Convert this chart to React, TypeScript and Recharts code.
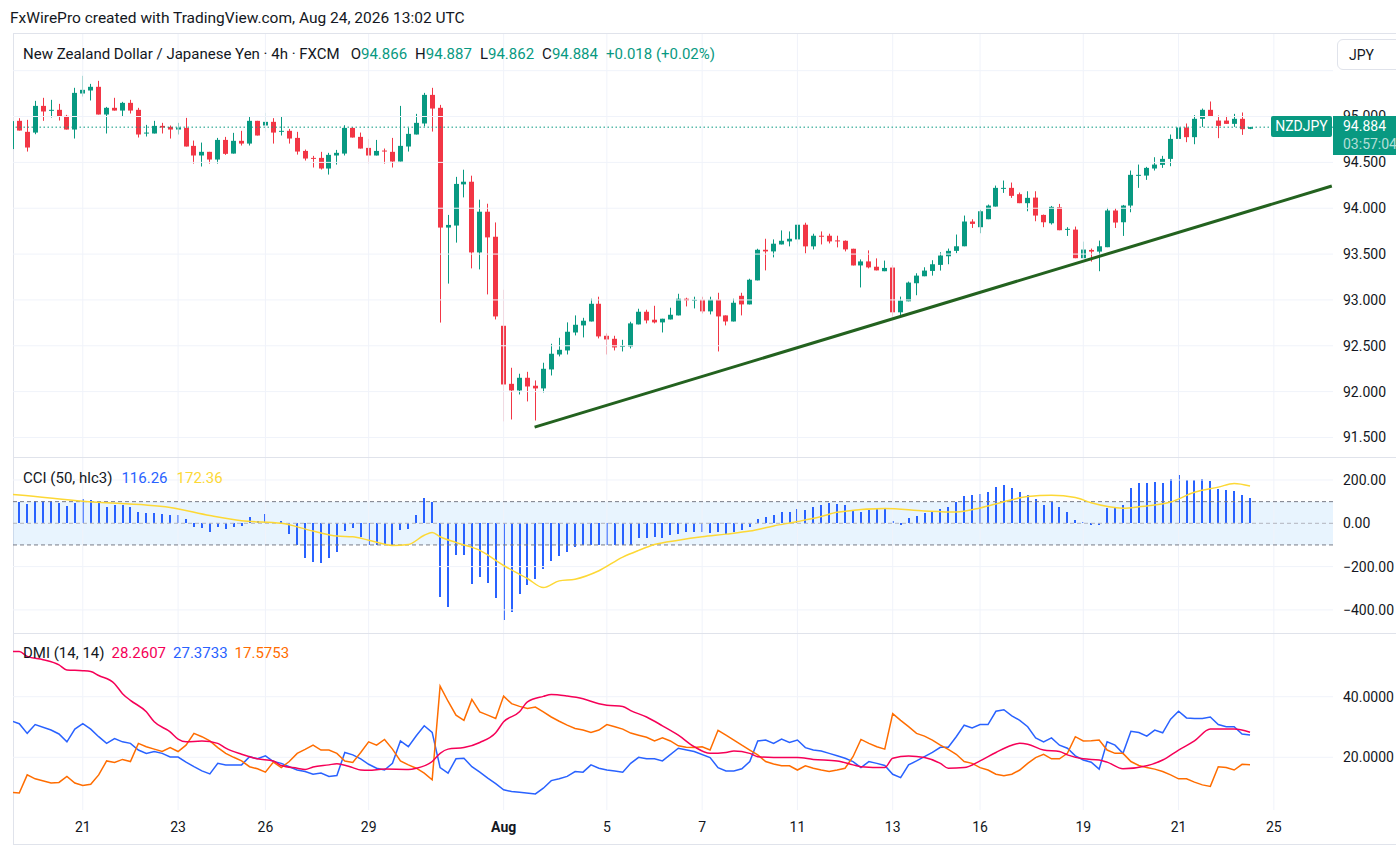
import React from 'react';
import { ComposedChart, Bar, Line, XAxis, YAxis, ReferenceLine, ReferenceArea } from 'recharts';

const FONT = 'Roboto, "Noto Sans", sans-serif';
const UP = '#089981';
const DOWN = '#f23645';
const GRID = '#f0f3fa';
const TEXT = '#131722';

// first candle row is the one cut by the left edge
const FIRST_INDEX = -1;

// [open, high, low, close] per 4h candle, oldest first
const ohlc: number[][] = [
  [94.645, 94.953, 94.640, 94.950],
  [94.953, 94.982, 94.847, 94.847], [94.833, 94.964, 94.618, 94.662], [94.825, 95.171, 94.807, 95.116],
  [95.116, 95.204, 94.953, 95.055], [95.065, 95.182, 94.989, 95.073], [95.073, 95.138, 94.956, 95.000],
  [95.007, 95.018, 94.858, 94.858], [94.858, 95.313, 94.760, 95.258], [95.251, 95.444, 95.218, 95.291],
  [95.284, 95.356, 95.175, 95.324], [95.324, 95.389, 95.022, 95.022], [95.022, 95.105, 94.815, 95.095],
  [95.095, 95.204, 95.065, 95.065], [95.065, 95.160, 95.000, 95.149], [95.149, 95.182, 95.033, 95.065],
  [95.073, 95.095, 94.771, 94.804], [94.818, 94.909, 94.782, 94.825], [94.815, 94.953, 94.815, 94.898],
  [94.898, 94.931, 94.815, 94.880], [94.887, 94.902, 94.760, 94.858], [94.858, 94.931, 94.804, 94.880],
  [94.876, 94.985, 94.673, 94.673], [94.680, 94.738, 94.487, 94.575], [94.575, 94.716, 94.455, 94.615],
  [94.615, 94.615, 94.487, 94.531], [94.531, 94.767, 94.487, 94.745], [94.745, 94.778, 94.582, 94.593],
  [94.596, 94.822, 94.596, 94.735], [94.735, 94.844, 94.684, 94.705], [94.705, 94.996, 94.684, 94.953],
  [94.953, 94.953, 94.793, 94.793], [94.902, 95.040, 94.836, 94.942], [94.942, 94.982, 94.705, 94.825],
  [94.836, 94.996, 94.793, 94.844], [94.844, 94.865, 94.705, 94.760], [94.767, 94.833, 94.585, 94.618],
  [94.625, 94.640, 94.520, 94.542], [94.549, 94.571, 94.444, 94.542], [94.549, 94.615, 94.422, 94.433],
  [94.433, 94.604, 94.367, 94.582], [94.575, 94.636, 94.476, 94.604], [94.596, 94.905, 94.575, 94.876],
  [94.876, 94.884, 94.771, 94.771], [94.778, 94.825, 94.651, 94.651], [94.658, 94.756, 94.487, 94.575],
  [94.575, 94.745, 94.575, 94.625], [94.629, 94.651, 94.487, 94.622], [94.615, 94.767, 94.444, 94.509],
  [94.509, 95.116, 94.509, 94.680], [94.673, 94.876, 94.618, 94.811], [94.804, 95.029, 94.804, 94.931],
  [94.924, 95.258, 94.891, 95.236], [95.236, 95.313, 94.836, 95.087], [95.095, 95.127, 92.753, 93.789],
  [93.789, 93.927, 93.178, 93.818], [93.811, 94.342, 93.625, 94.265], [94.260, 94.420, 94.118, 94.289],
  [94.289, 94.355, 93.344, 93.518], [93.518, 94.093, 93.333, 93.962], [93.962, 94.049, 93.060, 93.682],
  [93.689, 93.845, 92.787, 92.820], [92.718, 93.111, 91.675, 92.078], [92.085, 92.260, 91.696, 92.013],
  [92.013, 92.195, 91.969, 92.151], [92.151, 92.216, 91.893, 92.056], [92.064, 92.122, 91.685, 92.035],
  [92.035, 92.315, 91.991, 92.249], [92.242, 92.522, 92.176, 92.413], [92.405, 92.587, 92.384, 92.456],
  [92.449, 92.755, 92.405, 92.653], [92.645, 92.831, 92.613, 92.729], [92.722, 92.805, 92.591, 92.773],
  [92.765, 93.013, 92.765, 92.958], [92.958, 93.035, 92.580, 92.602], [92.609, 92.635, 92.405, 92.569],
  [92.576, 92.609, 92.449, 92.482], [92.493, 92.565, 92.438, 92.500], [92.493, 92.762, 92.471, 92.744],
  [92.733, 92.904, 92.733, 92.871], [92.871, 92.893, 92.744, 92.776], [92.784, 92.936, 92.744, 92.755],
  [92.755, 92.795, 92.645, 92.795], [92.787, 92.915, 92.787, 92.838], [92.831, 93.067, 92.831, 93.013],
  [93.013, 93.024, 92.929, 92.995], [92.995, 93.035, 92.907, 93.002], [93.002, 93.035, 92.853, 92.875],
  [92.875, 93.035, 92.842, 93.002], [93.002, 93.078, 92.438, 92.820], [92.831, 92.831, 92.722, 92.765],
  [92.765, 93.013, 92.765, 92.969], [93.045, 93.078, 92.831, 92.951], [92.951, 93.231, 92.951, 93.220],
  [93.213, 93.558, 93.213, 93.547], [93.547, 93.667, 93.322, 93.529], [93.529, 93.660, 93.464, 93.613],
  [93.605, 93.758, 93.605, 93.645], [93.638, 93.747, 93.584, 93.667], [93.660, 93.831, 93.605, 93.820],
  [93.820, 93.842, 93.507, 93.584], [93.584, 93.722, 93.551, 93.700], [93.700, 93.747, 93.605, 93.693],
  [93.700, 93.722, 93.616, 93.638], [93.649, 93.700, 93.573, 93.638], [93.645, 93.649, 93.529, 93.551],
  [93.558, 93.558, 93.376, 93.376], [93.376, 93.442, 93.136, 93.420], [93.420, 93.540, 93.344, 93.355],
  [93.362, 93.453, 93.322, 93.322], [93.313, 93.429, 93.313, 93.349], [93.353, 93.378, 92.818, 92.865],
  [92.865, 93.036, 92.811, 92.993], [92.985, 93.200, 92.985, 93.189], [93.182, 93.291, 93.051, 93.265],
  [93.258, 93.356, 93.258, 93.320], [93.316, 93.433, 93.265, 93.389], [93.382, 93.520, 93.320, 93.484],
  [93.476, 93.560, 93.389, 93.535], [93.535, 93.713, 93.509, 93.585], [93.585, 93.920, 93.585, 93.855],
  [93.855, 93.880, 93.785, 93.829], [93.793, 93.982, 93.727, 93.967], [93.880, 94.040, 93.880, 94.029],
  [94.018, 94.247, 94.018, 94.222], [94.215, 94.302, 94.167, 94.222], [94.222, 94.280, 94.113, 94.135],
  [94.153, 94.171, 94.055, 94.055], [94.055, 94.185, 93.967, 94.113], [94.116, 94.185, 93.858, 93.920],
  [93.927, 93.931, 93.793, 93.847], [93.836, 94.025, 93.822, 94.015], [94.011, 94.047, 93.760, 93.760],
  [93.767, 93.793, 93.698, 93.775], [93.767, 93.800, 93.455, 93.455], [93.455, 93.636, 93.455, 93.549],
  [93.545, 93.560, 93.418, 93.527], [93.527, 93.647, 93.313, 93.585], [93.575, 94.004, 93.575, 93.975],
  [93.975, 94.000, 93.785, 93.844], [93.847, 94.036, 93.698, 94.029], [94.029, 94.411, 93.956, 94.364],
  [94.356, 94.476, 94.222, 94.364], [94.356, 94.451, 94.309, 94.440], [94.433, 94.556, 94.411, 94.476],
  [94.473, 94.571, 94.440, 94.538], [94.538, 94.804, 94.458, 94.756], [94.756, 94.967, 94.756, 94.880],
  [94.880, 94.924, 94.720, 94.775], [94.775, 95.015, 94.698, 94.975], [94.975, 95.087, 94.887, 95.073],
  [95.073, 95.164, 95.004, 95.004], [94.956, 95.011, 94.764, 94.898], [94.956, 95.007, 94.920, 94.920],
  [94.920, 95.029, 94.887, 94.975], [94.975, 95.044, 94.800, 94.862], [94.866, 94.887, 94.862, 94.884],
];

// CCI histogram, from candle 0
const cciHist: number[] = [
  98, 91, 105, 105, 102, 95, 81, 94, 114, 109,
  94, 77, 86, 83, 77, 52, 47, 47, 42, 39,
  39, 20, -16, -23, -39, -16, -27, -19, -12, 27,
  11, 44, 8, 11, -50, -98, -161, -180, -184, -161,
  -133, -34, -20, -63, -102, -98, -94, -102, -31, -27,
  39, 117, 97, -339, -386, -148, -145, -281, -250, -277,
  -344, -445, -409, -328, -286, -255, -211, -173, -152, -133,
  -111, -102, -98, -102, -102, -102, -102, -100, -67, -66,
  -62, -67, -55, -48, -42, -42, -39, -47, -42, -48,
  -39, -31, -17, 20, 30, 39, 53, 52, 67, 62,
  73, 86, 92, 89, 83, 63, 54, 63, 67, 67,
  11, -6, 24, 35, 48, 52, 67, 76, 97, 125,
  130, 135, 143, 167, 178, 162, 143, 133, 110, 83,
  97, 76, 52, 14, 5, -10, -10, 71, 71, 83,
  162, 186, 186, 190, 186, 205, 224, 200, 200, 205,
  195, 157, 152, 148, 130, 116.26,
];

// [candle index, value] points
const cciAvg: number[][] = [
  [-1, 134], [0, 131], [8, 102], [19, 73], [24, 36], [28, 12], [33, 0], [37, -36], [40, -59],
  [42, -62], [44, -78], [47, -102], [49, -98], [51, -55], [52, -42], [53, -62], [55, -89],
  [58, -125], [61, -195], [64, -255], [66, -297], [68, -266], [70, -258], [73, -219], [76, -156],
  [78, -125], [80, -98], [83, -78], [86, -62], [89, -50], [92, -36], [95, -12], [98, 8], [101, 31],
  [103, 51], [109, 68], [114, 57], [118, 52], [121, 71], [124, 100], [127, 124], [130, 130],
  [133, 119], [135, 95], [139, 70], [141, 76], [145, 98], [148, 143], [151, 167], [153, 184],
  [155, 172.36],
];

const adx: number[][] = [
  [-1, 54.9], [0, 54.9], [1, 53.3], [3, 52.2], [5, 50.5], [6, 48.8], [8, 48.6], [9, 48.3], [10, 47.0],
  [12, 44.3], [13, 41.0], [14, 38.8], [16, 35.0], [17, 31.7], [19, 28.4], [20, 26.0], [21, 25.1],
  [23, 25.4], [25, 24.6], [26, 23.0], [28, 21.0], [30, 19.5], [32, 18.8], [33, 17.3], [35, 16.4],
  [36, 16.0], [37, 16.8], [39, 17.5], [40, 17.9], [42, 16.6], [43, 15.8], [44, 15.7], [46, 16.1],
  [49, 16.0], [50, 16.4], [52, 18.6], [53, 21.3], [54, 22.7], [56, 23.2], [58, 24.9], [60, 28.1],
  [61, 31.7], [63, 35.0], [64, 38.3], [66, 40.1], [67, 40.7], [69, 40.2], [71, 39.3], [73, 37.7],
  [74, 37.2], [76, 36.8], [77, 35.4], [79, 33.3], [81, 30.4], [83, 27.3], [85, 23.5], [87, 21.3],
  [89, 21.6], [90, 22.1], [92, 21.3], [93, 20.2], [95, 19.9], [98, 19.9], [100, 19.3], [103, 18.8],
  [105, 17.5], [106, 16.9], [109, 16.6], [110, 19.7], [112, 20.4], [114, 19.9], [116, 18.0],
  [117, 16.4], [119, 16.6], [121, 18.8], [123, 21.6], [125, 24.0], [126, 24.6], [127, 24.3],
  [129, 22.4], [131, 21.9], [132, 20.8], [134, 19.5], [136, 19.1], [137, 18.4], [139, 16.2],
  [142, 17.2], [144, 19.1], [146, 22.4], [148, 25.4], [150, 29.3], [153, 29.3], [155, 28.2607],
];

const plusDI: number[][] = [
  [-1, 32.0], [0, 31.1], [1, 27.9], [2, 30.8], [4, 29.0], [5, 27.7], [6, 25.1], [7, 29.3], [8, 31.1],
  [9, 29.3], [10, 26.8], [11, 24.6], [12, 26.2], [13, 25.1], [14, 24.6], [15, 22.4], [16, 21.3],
  [17, 21.9], [18, 21.3], [19, 20.1], [20, 20.1], [21, 18.4], [22, 16.9], [23, 15.5], [24, 14.5],
  [25, 18.0], [26, 17.5], [27, 17.5], [28, 17.5], [29, 20.2], [30, 19.5], [31, 20.5], [32, 18.6],
  [33, 18.0], [34, 16.9], [35, 15.8], [36, 15.3], [37, 14.4], [38, 14.8], [39, 13.7], [40, 14.0],
  [41, 21.6], [42, 20.8], [43, 19.5], [44, 17.7], [45, 16.4], [46, 15.8], [47, 18.0], [48, 25.4],
  [49, 23.5], [50, 27.1], [51, 30.4], [52, 28.2], [53, 16.6], [54, 14.8], [55, 19.5], [56, 19.7],
  [57, 16.9], [58, 15.1], [59, 13.1], [60, 11.3], [61, 9.3], [62, 8.7], [63, 8.5], [65, 7.9],
  [66, 9.8], [67, 12.3], [68, 12.9], [69, 13.7], [70, 15.3], [71, 15.1], [72, 17.5], [73, 16.4],
  [74, 15.8], [75, 15.5], [76, 15.1], [77, 18.0], [78, 20.0], [79, 19.5], [80, 19.5], [81, 18.8],
  [83, 23.0], [85, 21.9], [87, 19.9], [88, 16.6], [89, 15.5], [90, 15.5], [91, 16.2], [92, 18.6],
  [93, 25.4], [94, 25.7], [95, 24.6], [96, 26.0], [97, 24.9], [98, 25.7], [99, 23.2], [100, 22.4],
  [101, 22.1], [102, 21.3], [103, 20.5], [104, 19.7], [105, 18.6], [106, 16.6], [107, 18.6],
  [108, 18.0], [109, 17.3], [110, 14.4], [111, 13.3], [112, 17.5], [113, 18.8], [114, 20.2],
  [115, 21.6], [116, 23.3], [117, 23.3], [118, 26.8], [119, 30.6], [120, 29.7], [121, 30.8],
  [122, 30.8], [123, 35.2], [124, 35.7], [125, 33.7], [126, 32.2], [127, 30.1], [128, 26.4],
  [129, 25.1], [130, 26.4], [131, 24.0], [132, 23.0], [133, 20.5], [134, 19.1], [135, 18.4],
  [136, 16.1], [137, 25.1], [138, 24.0], [139, 21.3], [140, 28.6], [141, 28.2], [142, 27.0],
  [143, 29.0], [144, 28.1], [145, 32.6], [146, 35.2], [147, 33.0], [148, 32.8], [149, 32.8],
  [150, 33.3], [151, 30.8], [152, 30.1], [153, 30.1], [154, 27.7], [155, 27.3733],
];

const minusDI: number[][] = [
  [-1, 8.4], [0, 8.2], [1, 14.2], [2, 12.9], [4, 11.5], [5, 11.7], [6, 13.7], [7, 11.5], [8, 10.7],
  [9, 11.1], [10, 14.2], [11, 18.8], [12, 18.3], [13, 19.3], [14, 18.6], [15, 24.6], [16, 23.5],
  [17, 22.7], [18, 21.9], [19, 23.2], [20, 21.9], [21, 24.0], [22, 27.9], [23, 26.8], [24, 25.4],
  [25, 23.2], [26, 21.3], [27, 20.0], [28, 18.8], [29, 16.9], [30, 16.2], [31, 15.1], [32, 18.4],
  [33, 16.6], [34, 18.6], [35, 21.3], [36, 22.6], [37, 24.0], [38, 22.4], [39, 22.4], [40, 21.3],
  [41, 18.8], [42, 18.3], [43, 21.6], [44, 25.1], [45, 24.0], [46, 25.9], [47, 22.7], [48, 18.8],
  [49, 17.5], [50, 16.4], [51, 14.8], [52, 12.6], [53, 43.5], [54, 38.5], [55, 33.9], [56, 32.2],
  [57, 39.1], [58, 35.0], [59, 33.9], [60, 32.8], [61, 40.2], [62, 37.7], [63, 36.8], [64, 36.1],
  [65, 36.6], [66, 35.0], [67, 33.3], [68, 31.9], [69, 30.6], [70, 29.5], [71, 29.0], [72, 28.2],
  [73, 29.0], [74, 30.8], [75, 30.1], [76, 29.3], [77, 28.0], [78, 27.3], [79, 26.6], [80, 25.4],
  [81, 26.4], [82, 25.4], [83, 23.8], [84, 23.3], [85, 23.2], [86, 23.5], [87, 22.4], [88, 28.9],
  [89, 27.3], [90, 25.7], [91, 24.0], [92, 22.4], [93, 20.8], [94, 18.6], [95, 17.8], [96, 17.2],
  [97, 17.2], [98, 15.8], [99, 17.2], [100, 16.4], [101, 15.8], [102, 15.3], [103, 15.8],
  [104, 16.4], [105, 20.2], [106, 25.9], [107, 24.6], [108, 23.5], [109, 22.7], [110, 34.4],
  [111, 32.2], [112, 30.1], [113, 27.9], [114, 27.0], [115, 25.7], [116, 24.0], [117, 22.6],
  [118, 21.0], [119, 18.6], [120, 18.0], [121, 16.6], [122, 15.8], [123, 14.4], [124, 13.9],
  [125, 14.4], [126, 15.8], [127, 18.0], [128, 19.9], [129, 21.0], [130, 19.5], [131, 19.5],
  [132, 21.3], [133, 26.8], [134, 25.4], [135, 25.5], [136, 25.7], [137, 22.4], [138, 21.3],
  [139, 21.3], [140, 18.6], [141, 17.3], [142, 16.6], [143, 16.1], [144, 15.3], [145, 14.2],
  [146, 12.9], [147, 12.9], [148, 11.8], [149, 10.9], [150, 10.4], [151, 16.9], [152, 16.6],
  [153, 15.8], [154, 17.7], [155, 17.5753],
];

const dateTicks = [8, 20, 31, 44, 61, 74, 86, 98, 110, 121, 134, 146, 158];
const dateLabels = ['21', '23', '26', '29', 'Aug', '5', '7', '11', '13', '16', '19', '21', '25'];
const priceTicks = [91.5, 92, 92.5, 93, 93.5, 94, 94.5, 95];
const priceGrid = [91.5, 92, 92.5, 93, 93.5, 94, 94.5, 95, 95.5];
const cciTicks = [200, 0, -200, -400];
const dmiTicks = [20, 40];
const trendLine = [{ x: 64.9, y: 91.613 }, { x: 165.3, y: 94.242 }];
const lastPrice = 94.884;

const X_DOMAIN = [-0.79, 165.45];

const rows: any[] = ohlc.map((q, k) => ({
  i: k + FIRST_INDEX, o: q[0], h: q[1], l: q[2], c: q[3], range: [q[2], q[1]],
}));
const byIndex = new Map(rows.map((r) => [r.i, r]));
cciHist.forEach((v, k) => { byIndex.get(k).cci = v; });
cciAvg.forEach(([i, v]) => { byIndex.get(i).cciMa = v; });
adx.forEach(([i, v]) => { byIndex.get(i).adx = v; });
plusDI.forEach(([i, v]) => { byIndex.get(i).pdi = v; });
minusDI.forEach(([i, v]) => { byIndex.get(i).mdi = v; });

function Candle(props: any) {
  const { x, y, width, height, payload } = props;
  if (!payload || payload.o == null) return null;
  const { o, h, l, c } = payload;
  const top = Math.min(y, y + height);
  const span = Math.abs(height);
  const py = (v: number) => (h === l ? top : top + ((h - v) / (h - l)) * span);
  const color = c >= o ? UP : DOWN;
  const cx = Math.round(x + width / 2) + 0.5;
  const bTop = py(Math.max(o, c));
  const bBot = py(Math.min(o, c));
  return (
    <g>
      <line x1={cx} x2={cx} y1={top} y2={top + span} stroke={color} strokeWidth={1} />
      <rect x={cx - width / 2} y={bTop} width={width} height={Math.max(1, bBot - bTop)} fill={color} />
    </g>
  );
}

// histogram column snapped to whole pixels so it stays crisp
function Column(props: any) {
  const { x, y, width, height, fill } = props;
  if (height == null || isNaN(height)) return null;
  const left = Math.round(x + width / 2) - 1;
  const top = Math.round(Math.min(y, y + height));
  const bottom = Math.round(Math.max(y, y + height));
  return <rect x={left} y={top} width={2} height={Math.max(1, bottom - top)} fill={fill} shapeRendering="crispEdges" />;
}

function DateTick(props: any) {
  const { x, y, payload } = props;
  const label = dateLabels[dateTicks.indexOf(payload.value)];
  return (
    <text x={x} y={y} dy="0.71em" textAnchor="middle" fill={TEXT} fontSize={14} fontFamily={FONT}
      fontWeight={label === 'Aug' ? 700 : 400}>
      {label}
    </text>
  );
}

const vGrid = (p: string) =>
  dateTicks.map((t) => <ReferenceLine key={p + t} x={t} stroke={GRID} strokeWidth={1} />);

const axisTick = { fill: TEXT, fontSize: 14, fontFamily: FONT };
const minus = (s: string) => s.replace('-', '\u2212');

export default function App() {
  const legendRow = (top: number, gap: number, items: React.ReactNode) => (
    <div style={{ position: 'absolute', left: 23, top, height: 20, lineHeight: '20px', fontSize: 15,
      color: TEXT, whiteSpace: 'nowrap', display: 'flex', gap }}>{items}</div>
  );
  return (
    <div style={{ position: 'absolute', left: 0, top: 0, width: 1396, height: 849, background: '#fff',
      overflow: 'hidden', fontFamily: FONT, color: TEXT }}>
      <div style={{ position: 'absolute', left: 10, top: 9, fontSize: 15.5, whiteSpace: 'nowrap' }}>
        FxWirePro created with TradingView.com, Aug 24, 2026 13:02 UTC
      </div>
      <div style={{ position: 'absolute', left: 13, top: 33, width: 1383, height: 810,
        borderTop: '1px solid #e0e3eb', borderLeft: '1px solid #e0e3eb', borderBottom: '1px solid #e0e3eb' }} />

      {/* price pane */}
      <div style={{ position: 'absolute', left: 0, top: 34 }}>
        <ComposedChart width={1396} height={423} data={rows} margin={{ top: 0, right: 0, bottom: 0, left: 13 }}>
          <XAxis type="number" dataKey="i" domain={X_DOMAIN} allowDataOverflow hide ticks={dateTicks} />
          <YAxis orientation="right" width={63} domain={[91.287, 95.9]} allowDataOverflow ticks={priceTicks}
            axisLine={false} tickLine={false} tickMargin={4} tick={axisTick}
            tickFormatter={(v: number) => v.toFixed(3)} />
          {vGrid('p')}
          {priceGrid.map((v) => <ReferenceLine key={'h' + v} y={v} stroke={GRID} />)}
          <ReferenceLine y={lastPrice} stroke={UP} strokeDasharray="1.5 2.5" />
          <Bar dataKey="range" barSize={5} shape={<Candle />} isAnimationActive={false} />
          <ReferenceLine segment={trendLine} stroke="#23621f" strokeWidth={3} ifOverflow="visible" />
        </ComposedChart>
      </div>

      {/* CCI pane */}
      <div style={{ position: 'absolute', left: 0, top: 458 }}>
        <ComposedChart width={1396} height={175} data={rows} margin={{ top: 0, right: 0, bottom: 0, left: 13 }}>
          <XAxis type="number" dataKey="i" domain={X_DOMAIN} allowDataOverflow hide ticks={dateTicks} />
          <YAxis orientation="right" width={63} domain={[-506.7, 301.6]} allowDataOverflow ticks={cciTicks}
            axisLine={false} tickLine={false} tickMargin={4} tick={axisTick}
            tickFormatter={(v: number) => minus(v.toFixed(2))} />
          {vGrid('c')}
          {[200, -200, -400].map((v) => <ReferenceLine key={'g' + v} y={v} stroke={GRID} />)}
          <ReferenceArea y1={-100} y2={100} fill="#2196f3" fillOpacity={0.1} stroke="none" />
          <ReferenceLine y={100} stroke="#787b86" strokeDasharray="4 3" />
          <ReferenceLine y={-100} stroke="#787b86" strokeDasharray="4 3" />
          <ReferenceLine y={0} stroke="#b2b5be" strokeDasharray="4 3" />
          <Bar dataKey="cci" barSize={2} fill="#2962ff" shape={<Column />} isAnimationActive={false} />
          <Line dataKey="cciMa" type="monotone" stroke="#fdd835" strokeWidth={1.5} dot={false}
            connectNulls isAnimationActive={false} />
        </ComposedChart>
      </div>

      {/* DMI pane */}
      <div style={{ position: 'absolute', left: 0, top: 634 }}>
        <ComposedChart width={1396} height={211} data={rows} margin={{ top: 0, right: 0, bottom: 0, left: 13 }}>
          <XAxis type="number" dataKey="i" domain={X_DOMAIN} allowDataOverflow ticks={dateTicks}
            height={35} axisLine={false} tickLine={false} tickSize={6} tickMargin={6} tick={<DateTick />} />
          <YAxis orientation="right" width={63} domain={[2.61, 60.69]} allowDataOverflow ticks={dmiTicks}
            axisLine={false} tickLine={false} tickMargin={4} tick={axisTick}
            tickFormatter={(v: number) => v.toFixed(4)} />
          {vGrid('d')}
          {dmiTicks.map((v) => <ReferenceLine key={'g' + v} y={v} stroke={GRID} />)}
          <Line dataKey="pdi" type="linear" stroke="#2962ff" strokeWidth={1.5} dot={false}
            connectNulls isAnimationActive={false} />
          <Line dataKey="mdi" type="linear" stroke="#ff6d00" strokeWidth={1.5} dot={false}
            connectNulls isAnimationActive={false} />
          <Line dataKey="adx" type="monotone" stroke="#f50057" strokeWidth={1.5} dot={false}
            connectNulls isAnimationActive={false} />
        </ComposedChart>
      </div>

      {/* pane separators */}
      <div style={{ position: 'absolute', left: 13, top: 457, width: 1383, height: 1, background: '#e0e3eb' }} />
      <div style={{ position: 'absolute', left: 13, top: 633, width: 1383, height: 1, background: '#e0e3eb' }} />

      {legendRow(44, 8, <>
        <span style={{ marginRight: 3 }}>New Zealand Dollar / Japanese Yen · 4h · FXCM</span>
        <span>O<span style={{ color: UP }}>94.866</span></span>
        <span>H<span style={{ color: UP }}>94.887</span></span>
        <span>L<span style={{ color: UP }}>94.862</span></span>
        <span>C<span style={{ color: UP }}>94.884</span></span>
        <span style={{ color: UP }}>+0.018 (+0.02%)</span>
      </>)}
      {legendRow(468, 9, <>
        <span>CCI (50, hlc3)</span>
        <span style={{ color: '#2962ff' }}>116.26</span>
        <span style={{ color: '#fdd835' }}>172.36</span>
      </>)}
      {legendRow(643, 7, <>
        <span>DMI (14, 14)</span>
        <span style={{ color: '#f50057' }}>28.2607</span>
        <span style={{ color: '#2962ff' }}>27.3733</span>
        <span style={{ color: '#ff6d00' }}>17.5753</span>
      </>)}

      {/* currency button and last-price labels */}
      <div style={{ position: 'absolute', left: 1337, top: 39, width: 70, height: 31, border: '1px solid #e0e3eb',
        borderRadius: 6, background: '#fff', fontSize: 14, lineHeight: '31px', paddingLeft: 11, boxSizing: 'border-box' }}>
        JPY
      </div>
      <div style={{ position: 'absolute', left: 1271, top: 116, width: 61, height: 21, background: UP,
        borderRadius: 2, color: '#fff', fontSize: 14, lineHeight: '21px', textAlign: 'center' }}>
        NZDJPY
      </div>
      <div style={{ position: 'absolute', left: 1333, top: 116, width: 70, height: 39, background: UP,
        color: '#fff', fontSize: 14, paddingLeft: 10, boxSizing: 'border-box', whiteSpace: 'nowrap' }}>
        <div style={{ lineHeight: '19px', paddingTop: 1 }}>94.884</div>
        <div style={{ lineHeight: '17px', color: 'rgba(255,255,255,0.7)' }}>03:57:04</div>
      </div>
    </div>
  );
}
